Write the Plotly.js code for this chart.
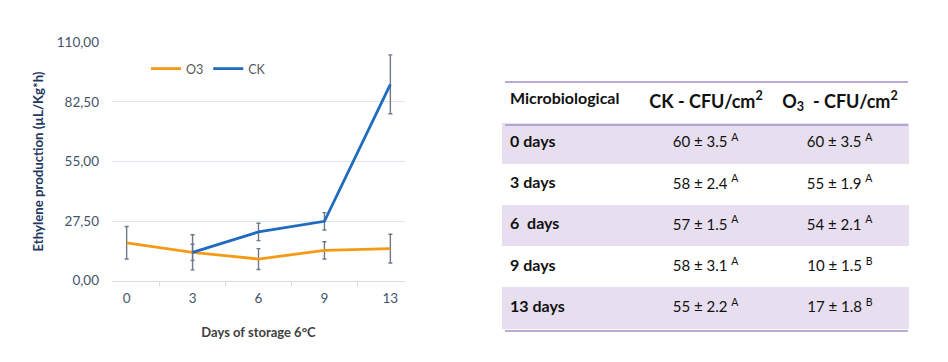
<!DOCTYPE html>
<html>
<head>
<meta charset="utf-8">
<script src="https://cdn.plot.ly/plotly-3.0.1.min.js"></script>
<style>html,body{margin:0;padding:0;background:#fff;}#chart{width:948px;height:362px;}</style>
</head>
<body>
<div id="chart"></div>
<script>
// ---- chart data ----
const days = ['0', '3', '6', '9', '13'];
const o3Ethylene = [17.5, 13.1, 10.0, 14.0, 14.8];
const o3EthyleneErr = [7.5, 8.1, 4.8, 4.0, 6.6];
const ckEthylene = [null, 13.1, 22.5, 27.4, 90.6];
const ckEthyleneErr = [null, 3.7, 4.0, 4.0, 13.6];

// ---- table data ----
const tableHeader = ['Microbiological', 'CK - CFU/cm<sup>2</sup>', 'O<sub>3</sub>  - CFU/cm<sup>2</sup>'];
const rowLabels = ['0 days', '3 days', '6  days', '9 days', '13 days'];
const ckMean = [60, 58, 57, 58, 55];
const ckSd = [3.5, 2.4, 1.5, 3.1, 2.2];
const ckGroup = ['A', 'A', 'A', 'A', 'A'];
const o3Mean = [60, 55, 54, 10, 17];
const o3Sd = [3.5, 1.9, 2.1, 1.5, 1.8];
const o3Group = ['A', 'A', 'A', 'B', 'B'];

const W = 948, H = 362;
const px = v => v / W;
const py = v => (H - v) / H;
const NB = '\u00A0';
const noWrap = s => s.replace(/ /g, NB);

const fmt = (m, s, g) => noWrap(m + ' ± ' + s.toFixed(1) + ' ') + '<sup>' + g + '</sup>';
const ckText = ckMean.map((m, i) => fmt(m, ckSd[i], ckGroup[i]));
const o3Text = o3Mean.map((m, i) => fmt(m, o3Sd[i], o3Group[i]));

const shade = '#E7DFEF';
const rowColors = rowLabels.map((_, i) => i % 2 === 0 ? shade : '#FFFFFF');
const tableLine = '#A290C6';

const errStyle = {type: 'data', visible: true, color: '#6E7788', thickness: 1.4, width: 2};

const traces = [
  {
    type: 'scatter', mode: 'lines', name: 'O3', x: days, y: o3Ethylene,
    line: {color: '#F39A17', width: 2.8},
    error_y: Object.assign({array: o3EthyleneErr}, errStyle),
    xaxis: 'x', yaxis: 'y'
  },
  {
    type: 'scatter', mode: 'lines', name: 'CK', x: days, y: ckEthylene,
    line: {color: '#1F6BBE', width: 2.8},
    error_y: Object.assign({array: ckEthyleneErr}, errStyle),
    xaxis: 'x', yaxis: 'y'
  },
  {
    type: 'table',
    domain: {x: [px(502), px(908)], y: [py(329), py(80)]},
    columnwidth: [138, 132, 136],
    header: {
      values: tableHeader.map(t => '<b>' + noWrap(t.replace('<sup>', '\u0001').replace('</sup>', '\u0002').replace('<sub>', '\u0003').replace('</sub>', '\u0004'))
        .replace('\u0001', '<sup>').replace('\u0002', '</sup>').replace('\u0003', '<sub>').replace('\u0004', '</sub>') + '</b>'),
      align: ['left', 'center', 'center'],
      height: 43,
      fill: {color: '#FFFFFF'},
      line: {color: '#FFFFFF', width: 0},
      font: {family: 'Lato', size: [16, 18, 18], color: '#111111'}
    },
    cells: {
      values: [rowLabels.map(r => '<b>' + noWrap(r) + '</b>'), ckText, o3Text],
      align: ['left', 'center', 'center'],
      height: 41.2,
      fill: {color: [rowColors, rowColors, rowColors]},
      line: {color: [rowColors, rowColors, rowColors], width: 1},
      font: {family: 'Lato', size: [16, 15, 15], color: '#111111'}
    }
  }
];

const hLine = y => ({
  type: 'line', xref: 'paper', yref: 'paper',
  x0: px(505), x1: px(908), y0: py(y), y1: py(y),
  line: {color: tableLine, width: 1.5}
});

const layout = {
  width: W, height: H,
  margin: {l: 0, r: 0, t: 0, b: 0},
  paper_bgcolor: '#FFFFFF', plot_bgcolor: '#FFFFFF',
  separators: ',.',
  font: {family: 'Lato', color: '#44546A'},
  showlegend: true,
  legend: {
    orientation: 'h', x: px(146), y: py(69), xanchor: 'left', yanchor: 'middle',
    font: {family: 'Lato', size: 12.5, color: '#595959'},
    bgcolor: 'rgba(0,0,0,0)'
  },
  xaxis: {
    type: 'category', domain: [px(112), px(405)],
    showgrid: false, showline: true, linecolor: '#D6DCE6', linewidth: 1,
    ticks: 'outside', tickson: 'boundaries', ticklen: 5, tickcolor: '#D6DCE6',
    ticklabelstandoff: 5,
    tickfont: {family: 'Lato', size: 13.5, color: '#44546A'},
    title: {text: 'Days of storage 6°C', standoff: 22,
            font: {family: 'Lato', size: 13, color: '#404040', weight: 700}},
    automargin: false, fixedrange: true
  },
  yaxis: {
    domain: [py(280.7), py(42.3)], range: [0, 110],
    tickmode: 'array', tickvals: [0, 27.5, 55, 82.5, 110], tickformat: '.2f',
    showgrid: true, gridcolor: '#DCE4F2', gridwidth: 1,
    zeroline: false, showline: false, ticks: '',
    ticklabelstandoff: 12,
    tickfont: {family: 'Lato', size: 13.5, color: '#44546A'},
    title: {text: 'Ethylene production (µL/Kg*h)', standoff: 10,
            font: {family: 'Lato', size: 13.2, color: '#1F3864', weight: 700}},
    automargin: false, fixedrange: true
  },
  shapes: [hLine(82), hLine(125), hLine(331)]
};

Plotly.newPlot('chart', traces, layout, {displayModeBar: false, staticPlot: true});
</script>
</body>
</html>
